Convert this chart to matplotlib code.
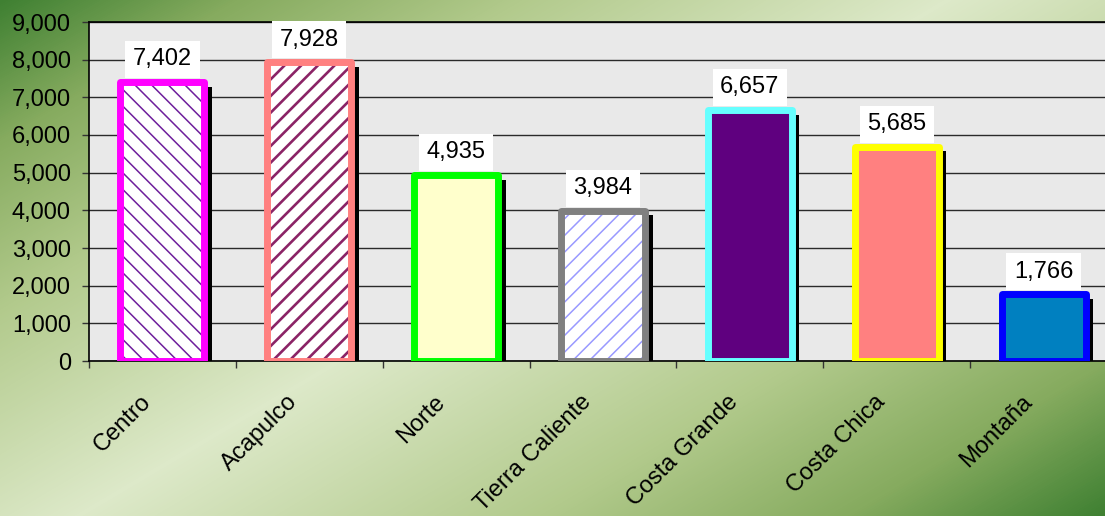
import numpy as np
import matplotlib
matplotlib.use('Agg')
import matplotlib.pyplot as plt
from matplotlib.transforms import ScaledTranslation
from matplotlib.colors import LinearSegmentedColormap
from matplotlib.ticker import MultipleLocator, FuncFormatter, FixedLocator

# ---------------- data ----------------
categories = ['Centro', 'Acapulco', 'Norte', 'Tierra Caliente',
              'Costa Grande', 'Costa Chica', 'Montaña']
values = [7402, 7928, 4935, 3984, 6657, 5685, 1766]

# ---------------- styles ----------------
edge_colors = ['#FF00FF', '#FF8080', '#00FF00', '#808080', '#66FFFF', '#FFFF00', '#0000FF']
face_colors = ['#FFFFFF', '#FFFFFF', '#FFFFCC', '#FFFFFF', '#5F007F', '#FF8080', '#0080C0']
hatches = ['\\\\', '//', None, '//', None, None, None]
hatch_colors = ['#6E1F9C', '#8B2366', None, '#9999FF', None, None, None]
hatch_widths = [1.1, 1.9, 1.0, 1.1, 1.0, 1.0, 1.0]

plt.rcParams['font.family'] = ['Liberation Sans', 'DejaVu Sans']

W, H = 1105, 516
fig = plt.figure(figsize=(W / 100, H / 100), dpi=100)

# ---------------- gradient background ----------------
bg = fig.add_axes([0, 0, 1, 1], zorder=-10)
yy, xx = np.mgrid[0:H, 0:W]
p = (516 * xx + 870 * yy) / (516 * (W - 1) + 870 * (H - 1))
t0 = 0.48
d = np.where(p < t0, (t0 - p) / t0, (p - t0) / (1 - t0))
cmap = LinearSegmentedColormap.from_list(
    'g', [(0, '#dde9c9'), (0.45, '#b2ca8c'), (0.75, '#86ab5f'), (1, '#3f8032')])
bg.imshow(d, cmap=cmap, vmin=0, vmax=1, aspect='auto', extent=[0, 1, 0, 1],
          origin='upper', interpolation='bilinear')
bg.axis('off')

# ---------------- main axes ----------------
ax = fig.add_axes([89 / W, 1 - 361 / H, (1117 - 89) / W, (361 - 22) / H])
ax.set_facecolor('#e9e9e9')
x = np.arange(len(categories))
ax.set_xlim(-0.5, len(categories) - 0.5)
ax.set_ylim(0, 9000)

ax.yaxis.set_major_locator(MultipleLocator(1000))
ax.yaxis.set_major_formatter(FuncFormatter(lambda v, pos: f'{v:,.0f}'))
ax.yaxis.grid(True, color='#2a2a2a', lw=1.0)
ax.set_axisbelow(True)

for s in ['left', 'bottom', 'top']:
    ax.spines[s].set_color('#000000')
    ax.spines[s].set_linewidth(1.2)
ax.spines['right'].set_visible(False)

ax.tick_params(axis='y', direction='out', length=5, width=1, color='#333333',
               pad=8, labelsize=17)

bw = 0.572
shadow_off = ScaledTranslation(7.5 / 100, -4.5 / 100, fig.dpi_scale_trans)

for i, v in enumerate(values):
    # shadow
    sh = ax.bar(x[i], v, width=bw, color='black', linewidth=0, zorder=2)
    for r in sh:
        r.set_transform(ax.transData + shadow_off)
    # fill (+ hatch)
    with plt.rc_context({'hatch.linewidth': hatch_widths[i]}):
        fb = ax.bar(x[i], v, width=bw, color=face_colors[i],
                    edgecolor=hatch_colors[i] if hatch_colors[i] else face_colors[i],
                    linewidth=0, hatch=hatches[i], zorder=3)
    for r in fb:
        if hasattr(r, 'set_hatch_linewidth'):
            r.set_hatch_linewidth(hatch_widths[i])
    # border
    ax.bar(x[i], v, width=bw, fill=False, edgecolor=edge_colors[i],
           linewidth=5, joinstyle='round', zorder=4)
    # value label
    ax.annotate(f'{v:,}', xy=(x[i], v), xytext=(0, 8.5), textcoords='offset points',
                ha='center', va='bottom', fontsize=17, zorder=6,
                bbox=dict(boxstyle='square,pad=0.32', fc='white', ec='none'))

# x ticks: labels at centres, tick marks at boundaries
ax.set_xticks(x)
ax.set_xticklabels(categories, rotation=45, ha='right', fontsize=17)
ax.xaxis.set_minor_locator(FixedLocator(np.arange(-0.5, len(categories), 1.0)))
ax.tick_params(axis='x', which='major', length=0, pad=21.5)
ax.tick_params(axis='x', which='minor', direction='out', length=5, width=1, color='#333333')
for lab in ax.get_xticklabels():
    lab.set_transform(lab.get_transform() + ScaledTranslation(-7 / 100, 0, fig.dpi_scale_trans))

fig.savefig('out.png', dpi=100)
